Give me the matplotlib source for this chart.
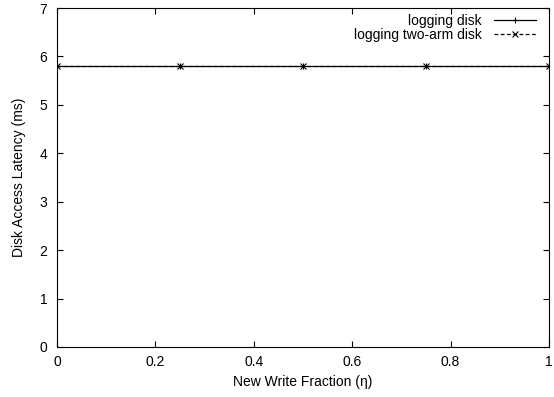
import matplotlib
matplotlib.use("Agg")
import matplotlib.pyplot as plt

plt.rcParams['font.family'] = ['Liberation Sans', 'DejaVu Sans']
plt.rcParams['font.size'] = 10

# data
fractions = [0, 0.25, 0.5, 0.75, 1.0]
logging_disk = [5.81, 5.81, 5.81, 5.81, 5.81]
logging_two_arm = [5.80, 5.80, 5.80, 5.80, 5.80]

xticks = [0, 0.2, 0.4, 0.6, 0.8, 1]
xtick_labels = ["0", "0.2", "0.4", "0.6", "0.8", "1"]
yticks = [0, 1, 2, 3, 4, 5, 6, 7]

fig = plt.figure(figsize=(5.54, 3.97), dpi=100)
ax = fig.add_axes([57 / 554, 50 / 397, 492 / 554, 339 / 397])

ax.plot(fractions, logging_disk, color='black', linestyle='-', linewidth=0.9,
        marker='+', markersize=5, markeredgewidth=0.8, label='logging disk')
ax.plot(fractions, logging_two_arm, color='black', linestyle=(0, (3, 2)), linewidth=0.9,
        marker='x', markersize=4, markeredgewidth=0.8, label='logging two-arm disk')

ax.set_xlim(0, 1)
ax.set_ylim(0, 7)
ax.set_xticks(xticks)
ax.set_xticklabels(xtick_labels)
ax.set_yticks(yticks)
ax.tick_params(direction='in', top=True, right=True, length=4, width=0.8)
ax.tick_params(axis='x', pad=6)
ax.tick_params(axis='y', pad=7)
for s in ax.spines.values():
    s.set_linewidth(0.8)

ax.set_xlabel('New Write Fraction (η)', labelpad=4)
ax.set_ylabel('Disk Access Latency (ms)', labelpad=10)

ax.legend(loc='upper right', bbox_to_anchor=(0.985, 1.0), frameon=False,
          markerfirst=False, handlelength=3.0, borderaxespad=0.1,
          labelspacing=0.0, handletextpad=0.9, borderpad=0.3)

fig.savefig('out.png', dpi=100)
